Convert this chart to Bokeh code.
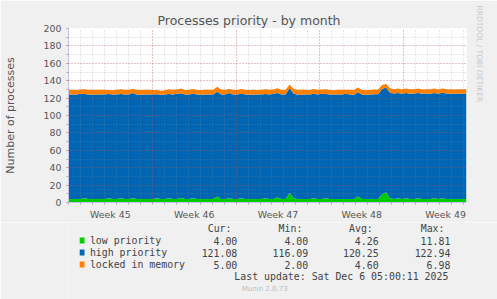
import numpy as np
from bokeh.plotting import figure
from bokeh.layouts import column
from bokeh.models import Range1d, FixedTicker, Title, ColumnDataSource
from bokeh.core.properties import value
from bokeh.embed import file_html
from bokeh.resources import INLINE

# ---------------- data (8-hour samples over the month) ----------------
low = [
    4.0, 4.0, 4.0, 4.0, 4.8, 4.0, 4.0, 4.0, 4.0, 4.0,
    4.8, 4.0, 4.0, 4.8, 4.0, 4.0, 4.8, 4.0, 4.0, 4.0,
    4.0, 4.0, 4.8, 4.0, 4.0, 4.8, 4.0, 4.0, 5.6, 4.0,
    4.0, 4.8, 4.0, 4.0, 4.0, 4.0, 4.0, 6.8, 4.0, 4.0,
    4.8, 4.0, 4.0, 4.8, 4.0, 4.0, 4.0, 4.0, 4.0, 4.8,
    4.0, 4.0, 5.8, 4.0, 4.0, 11.0, 5.0, 4.0, 4.0, 4.0,
    4.0, 4.8, 4.0, 4.0, 4.8, 4.0, 4.0, 4.0, 4.0, 4.0,
    4.0, 4.0, 6.8, 4.0, 4.0, 4.0, 4.0, 4.0, 9.5, 11.8,
    5.0, 4.0, 4.8, 4.0, 4.8, 4.0, 4.0, 4.8, 4.0, 4.0,
    4.0, 4.8, 4.0, 4.8, 4.0, 4.0, 4.0, 4.0, 4.0, 4.0]

high = [
    120.0, 120.2, 120.0, 121.0, 120.0, 120.1, 119.9, 120.0, 120.2, 120.0,
    119.8, 120.0, 120.1, 120.0, 120.0, 120.2, 121.0, 120.0, 119.9, 120.0,
    120.1, 120.0, 119.6, 119.8, 120.0, 120.0, 120.1, 121.0, 120.0, 120.0,
    120.0, 120.1, 120.0, 119.9, 120.0, 120.0, 120.2, 120.5, 120.0, 120.0,
    121.0, 120.0, 120.0, 120.1, 120.0, 119.9, 120.0, 120.0, 120.2, 120.0,
    120.0, 121.0, 120.0, 120.0, 120.0, 120.5, 120.0, 120.0, 119.9, 120.0,
    120.0, 120.1, 120.0, 121.0, 120.0, 120.0, 120.0, 120.2, 120.0, 121.0,
    120.0, 119.8, 120.0, 120.2, 119.9, 120.0, 120.3, 120.5, 121.0, 120.5,
    121.2, 121.3, 121.2, 121.0, 121.2, 121.1, 121.3, 121.2, 121.0, 121.2,
    121.1, 121.2, 121.0, 121.3, 121.2, 121.1, 121.0, 121.2, 121.1, 121.08]

locked = [
    5.5, 5.5, 5.4, 5.0, 5.5, 5.5, 5.6, 5.5, 5.4, 5.5,
    4.6, 5.0, 5.5, 5.5, 5.5, 5.4, 4.8, 5.5, 5.5, 5.6,
    5.5, 5.4, 4.8, 4.6, 5.0, 5.5, 5.5, 5.0, 5.5, 5.4,
    5.5, 5.5, 5.4, 5.5, 5.6, 5.5, 5.4, 5.7, 5.5, 5.5,
    4.8, 5.5, 5.4, 5.5, 5.5, 5.5, 5.6, 5.4, 5.5, 5.5,
    5.5, 4.8, 5.5, 5.4, 5.5, 4.0, 5.5, 5.5, 5.6, 5.5,
    5.4, 5.5, 5.5, 4.8, 5.5, 5.4, 5.0, 5.5, 5.5, 4.6,
    5.5, 5.5, 5.5, 5.0, 5.5, 5.4, 5.5, 5.5, 4.5, 4.0,
    5.0, 5.0, 4.9, 5.0, 5.0, 5.1, 5.0, 5.0, 5.0, 4.9,
    5.0, 5.0, 5.0, 5.0, 5.1, 5.0, 5.0, 5.0, 5.0, 5.0]

week_labels = ["Week 45", "Week 46", "Week 47", "Week 48", "Week 49"]
week_starts = [0, 7, 14, 21, 28]
y_ticks = list(range(0, 201, 20))

series_names = ["low priority", "high priority", "locked in memory"]
series_colors = ["#00CC00", "#0066B3", "#FF8000"]
col_heads = ["Cur:", "Min:", "Avg:", "Max:"]
cur_vals = ["4.00", "121.08", "5.00"]
min_vals = ["4.00", "116.09", "2.00"]
avg_vals = ["4.26", "120.25", "4.60"]
max_vals = ["11.81", "122.94", "6.98"]
last_update = "Last update: Sat Dec  6 05:00:11 2025"
footer = "Munin 2.0.73"

SPAN_DAYS = 33.25
days = np.linspace(0, SPAN_DAYS, len(low))
src = ColumnDataSource(dict(x=days, low=low, high=high, locked=locked))

W = 497
TOP_H = 222           # height of the chart figure
FL, FR, FT, FB = 67, 466, 28, 203   # frame on the canvas
TXT = "#555555"
AXIS_COL = "#C4C4EC"

p = figure(width=W, height=TOP_H, x_range=Range1d(0, SPAN_DAYS), y_range=Range1d(0, 200),
           output_backend="svg", toolbar_location=None,
           min_border_left=FL, min_border_right=W - FR, min_border_top=FT,
           min_border_bottom=TOP_H - FB,
           background_fill_color="white", border_fill_color="#F0F0F0")
p.outline_line_color = None

p.title.text = "Processes priority - by month"
p.title.align = "left"
p.title.offset = 89
p.title.standoff = 2
p.title.text_font = "DejaVu Sans"
p.title.text_font_size = "12.5px"
p.title.text_font_style = "normal"
p.title.text_color = TXT

p.add_layout(Title(text="RRDTOOL / TOBI OETIKER", align="left", offset=-23, standoff=16,
                   text_font="DejaVu Sans", text_font_size="7.5px", text_font_style="normal",
                   text_color="#C8C8C8"), "right")

p.varea_stack(stackers=["low", "high", "locked"], x="x", color=series_colors, source=src)

# grids drawn on top of the areas, like rrdtool
p.xgrid.ticker = FixedTicker(ticks=week_starts, minor_ticks=list(range(0, 34)))
p.ygrid.ticker = FixedTicker(ticks=y_ticks, minor_ticks=list(range(0, 201, 10)))
for g in (p.xgrid, p.ygrid):
    g.level = "annotation"
    g.grid_line_color = "#DC2020"
    g.grid_line_alpha = 0.38
    g.grid_line_dash = "1 2"
    g.minor_grid_line_color = "#8C8C8C"
    g.minor_grid_line_alpha = 0.4
    g.minor_grid_line_dash = "1 2"

ya = p.yaxis[0]
ya.ticker = FixedTicker(ticks=y_ticks, minor_ticks=list(range(0, 201, 10)))
ya.axis_line_color = AXIS_COL
ya.major_tick_line_color = "#E08080"
ya.major_tick_in = 0
ya.major_tick_out = 2
ya.minor_tick_line_color = "#B0B0B0"
ya.minor_tick_in = 0
ya.minor_tick_out = 2
ya.major_label_standoff = 5
ya.major_label_text_font = "DejaVu Sans"
ya.major_label_text_font_size = "9.4px"
ya.major_label_text_color = TXT
ya.axis_label = "Number of processes"
ya.axis_label_text_font = "DejaVu Sans"
ya.axis_label_text_font_size = "11px"
ya.axis_label_text_font_style = "normal"
ya.axis_label_text_color = TXT
ya.axis_label_standoff = 24

week_mid = [w + 3.5 for w in week_starts]
xa = p.xaxis[0]
xa.ticker = FixedTicker(ticks=week_mid, minor_ticks=list(range(0, 34)))
xa.major_label_overrides = {m: l for m, l in zip(week_mid, week_labels)}
xa.axis_line_color = AXIS_COL
xa.major_tick_line_color = None
xa.major_tick_in = 0
xa.major_tick_out = 0
xa.minor_tick_line_color = "#B0B0B0"
xa.minor_tick_in = 0
xa.minor_tick_out = 2
xa.major_label_standoff = 4
xa.major_label_text_font = "DejaVu Sans"
xa.major_label_text_font_size = "9.4px"
xa.major_label_text_color = TXT

# ---------------- legend strip (canvas pixel coordinates) ----------------
LEG_H = 299 - TOP_H
q = figure(width=W, height=LEG_H, x_range=Range1d(0, W), y_range=Range1d(299, TOP_H),
           output_backend="svg", toolbar_location=None, min_border=0,
           x_axis_location=None, y_axis_location=None,
           background_fill_color="#F0F0F0", border_fill_color="#F0F0F0")
q.outline_line_color = None
q.xgrid.visible = False
q.ygrid.visible = False

MONO = value("DejaVu Sans Mono")
LEG = "#444444"
FS = "9.9px"
row_y = [240, 252, 264]
col_right = [210.8, 299.3, 387.3, 476.8]

q.text(x=[c - 7.3 for c in col_right], y=[227.5] * 4, text=col_heads,
       text_font=MONO, text_font_size=FS, text_color=LEG,
       text_align="right", text_baseline="middle")
q.rect(x=[17] * 3, y=row_y, width=6, height=6, fill_color=series_colors, line_color=None)
q.text(x=[26.7] * 3, y=row_y, text=series_names, text_font=MONO, text_font_size=FS,
       text_color=LEG, text_align="left", text_baseline="middle")
for c, vals in zip(col_right, [cur_vals, min_vals, avg_vals, max_vals]):
    q.text(x=[c] * 3, y=row_y, text=vals, text_font=MONO, text_font_size=FS,
           text_color=LEG, text_align="right", text_baseline="middle")
q.text(x=[481.8], y=[275.5], text=[last_update], text_font=MONO, text_font_size=FS,
       text_color=LEG, text_align="right", text_baseline="middle")
q.text(x=[245], y=[288], text=[footer], text_font=value("DejaVu Sans"), text_font_size="7px",
       text_color="#BBBBBB", text_align="center", text_baseline="middle")

layout = column(p, q, spacing=0)
open("out.html", "w").write(file_html(layout, INLINE))
